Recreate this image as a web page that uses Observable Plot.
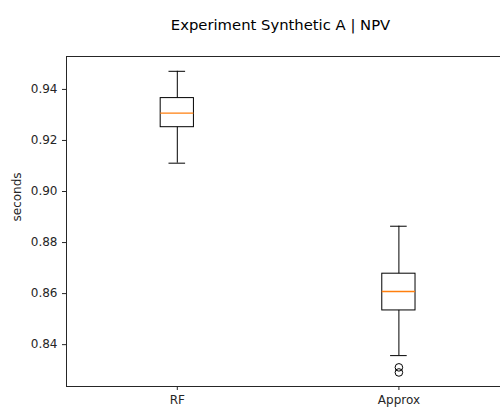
<!DOCTYPE html>
<html>
<head>
<meta charset="utf-8">
<script src="https://cdn.jsdelivr.net/npm/d3@7"></script>
<script src="https://cdn.jsdelivr.net/npm/@observablehq/plot@0.6"></script>
<style>
  html, body { margin: 0; padding: 0; background: #fff; overflow: hidden; }
  #chart svg { display: block; }
</style>
</head>
<body>
<div id="chart"></div>
<script>
const titleText = "Experiment Synthetic A | NPV";
const yLabel = "seconds";
const categories = ["RF", "Approx"];
const positions = [1, 2];
const whiskerLow = [0.9111, 0.8357];
const q1 = [0.9252, 0.8534];
const median = [0.9307, 0.8608];
const q3 = [0.9366, 0.8678];
const whiskerHigh = [0.9471, 0.8864];
const outliers = [[], [0.8311, 0.8291]];
const yTicks = [0.84, 0.86, 0.88, 0.90, 0.92, 0.94];

const boxes = categories.map((c, i) => ({
  cat: c, pos: positions[i], lo: whiskerLow[i], q1: q1[i], med: median[i], q3: q3[i], hi: whiskerHigh[i]
}));
const fliers = categories.flatMap((c, i) => outliers[i].map(v => ({pos: positions[i], v})));

const half = 0.075, capHalf = 0.0375;
const yDomain = [0.8236, 0.9529];
const xDomain = [0.5, 2.4585];

const chart = Plot.plot({
  width: 500,
  height: 408,
  marginLeft: 66,
  marginRight: 0,
  marginTop: 56,
  marginBottom: 22,
  style: {fontFamily: "DejaVu Sans", fontSize: "12px", color: "#262626", background: "#fff"},
  x: {domain: xDomain, axis: null},
  y: {domain: yDomain, axis: null},
  marks: [
    Plot.ruleX([xDomain[0]], {stroke: "#262626", strokeWidth: 1}),
    Plot.ruleY([yDomain[0], yDomain[1]], {stroke: "#262626", strokeWidth: 1}),
    Plot.axisY({
      ticks: yTicks, tickSize: 4, tickPadding: 5, tickFormat: d3.format(".2f"),
      label: null, stroke: "#262626", fontSize: 12
    }),
    Plot.axisX({
      ticks: positions, tickSize: 4, tickPadding: 5,
      tickFormat: d => categories[positions.indexOf(d)],
      label: null, stroke: "#262626", fontSize: 12
    }),
    Plot.text([yLabel], {
      frameAnchor: "left", dx: -49, rotate: -90, text: d => d,
      fontSize: 12, fill: "#262626"
    }),
    Plot.text([titleText], {
      frameAnchor: "top", dy: -37, dx: -3, text: d => d,
      fontSize: 14.8, fill: "#000"
    }),
    Plot.ruleX(boxes, {x: "pos", y1: "lo", y2: "q1", stroke: "#000", strokeWidth: 1}),
    Plot.ruleX(boxes, {x: "pos", y1: "q3", y2: "hi", stroke: "#000", strokeWidth: 1}),
    Plot.ruleY(boxes, {y: "lo", x1: d => d.pos - capHalf, x2: d => d.pos + capHalf, stroke: "#000", strokeWidth: 1}),
    Plot.ruleY(boxes, {y: "hi", x1: d => d.pos - capHalf, x2: d => d.pos + capHalf, stroke: "#000", strokeWidth: 1}),
    Plot.rect(boxes, {
      x1: d => d.pos - half, x2: d => d.pos + half, y1: "q1", y2: "q3",
      fill: "none", stroke: "#000", strokeWidth: 1
    }),
    Plot.ruleY(boxes, {y: "med", x1: d => d.pos - half, x2: d => d.pos + half, stroke: "#ff7f0e", strokeWidth: 1.4}),
    Plot.dot(fliers, {x: "pos", y: "v", r: 3.8, stroke: "#000", fill: "none", strokeWidth: 1})
  ]
});
document.getElementById("chart").appendChild(chart);
</script>
</body>
</html>
